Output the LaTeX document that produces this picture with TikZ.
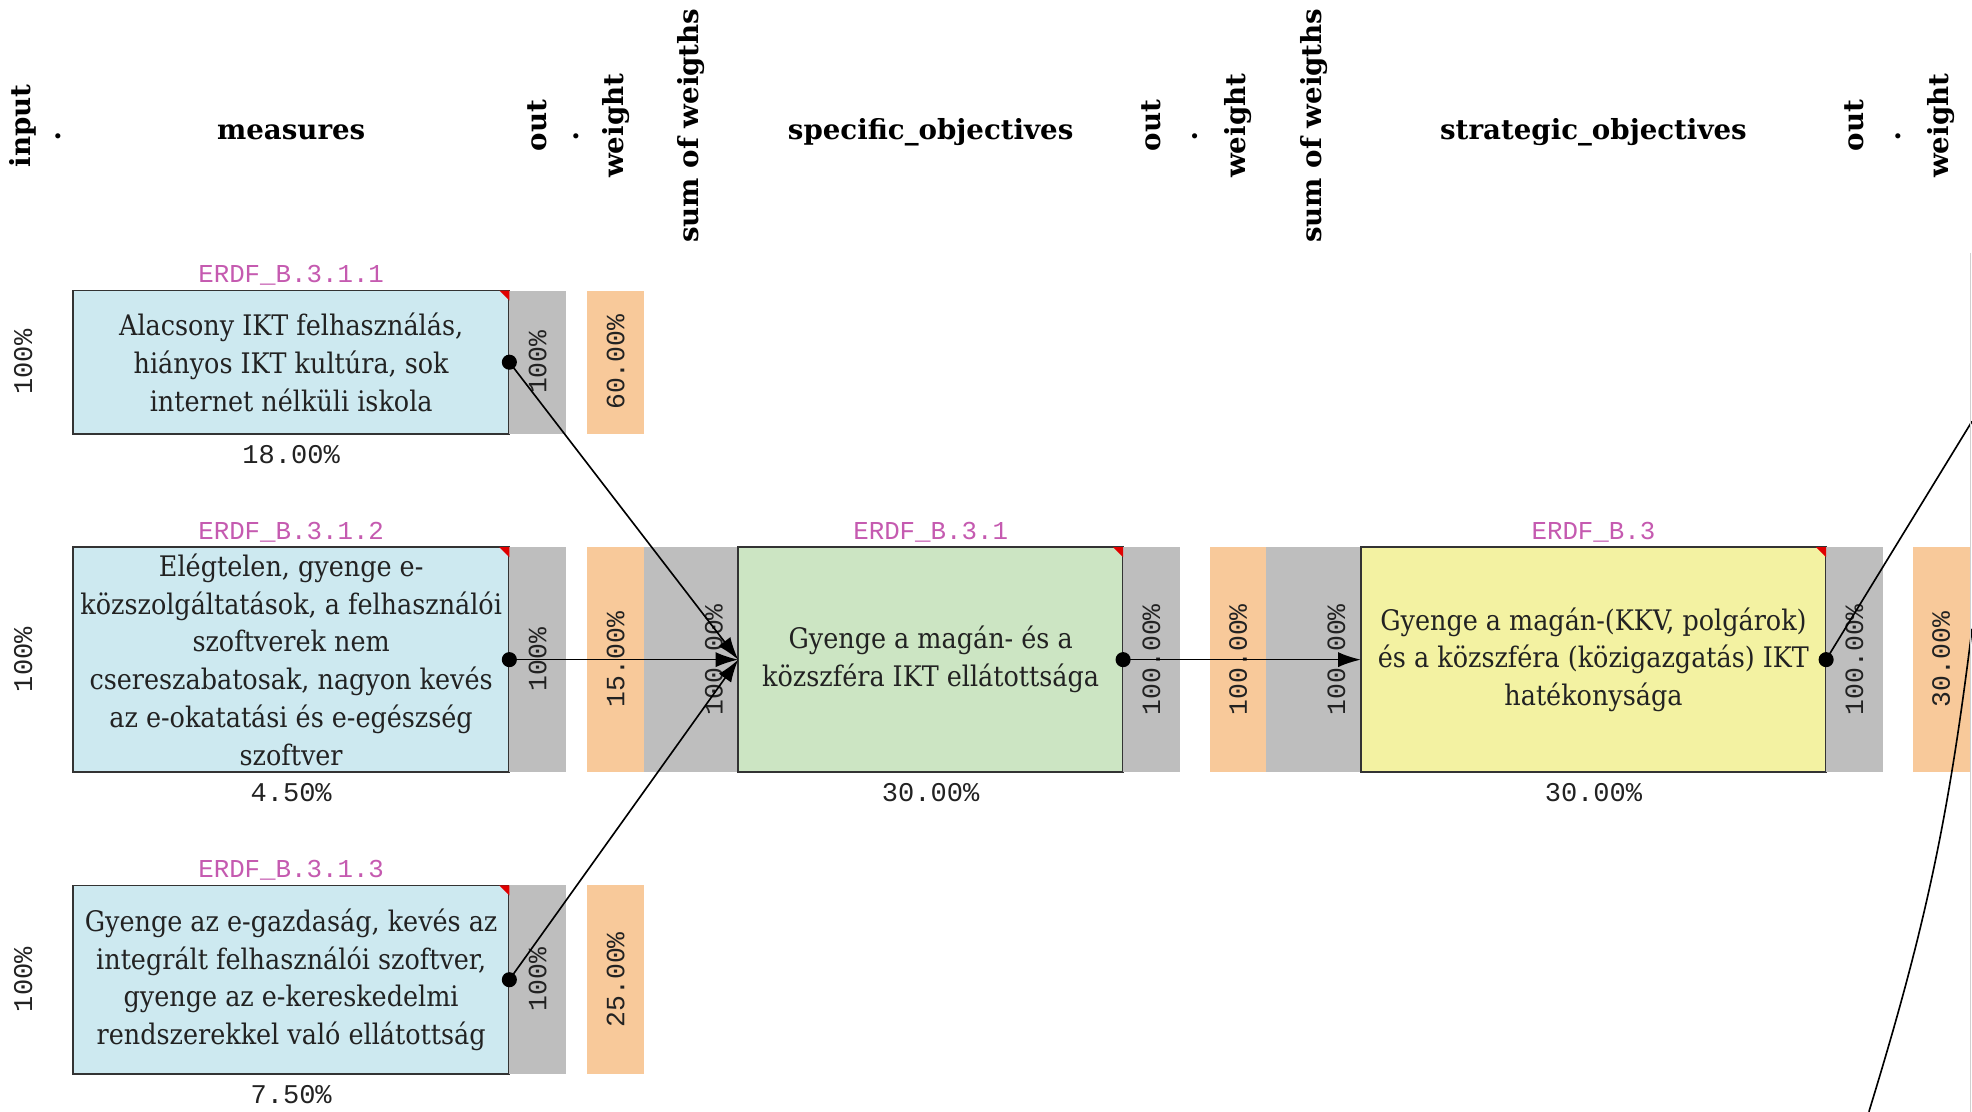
\documentclass[tikz,border=0pt]{standalone}
\usepackage{fontspec}
\setmainfont{DejaVu Serif Condensed}
\newfontfamily\hdrfont{DejaVu Serif}
\newfontfamily\pctfont{Liberation Mono}
\usepackage{tikz}
\usetikzlibrary{positioning,arrows.meta}
\definecolor{trBlueL}{HTML}{CDE9F0}
\definecolor{trGreenL}{HTML}{CCE5C3}
\definecolor{trYellowL}{HTML}{F3F2A2}
\definecolor{trGray}{HTML}{BEBEBE}
\definecolor{trOrangeL}{HTML}{F8C99A}
\definecolor{trPink}{HTML}{C55AB0}
\definecolor{trRed}{HTML}{E00000}
\definecolor{trBorder}{HTML}{333333}
\definecolor{trText}{HTML}{222222}
\definecolor{trEdge}{HTML}{D0D0D0}
\tikzset{
  tr-box/.style={
    draw=trBorder, line width=1.4pt, outer sep=0pt, inner sep=4pt,
    align=center, text=trText, font=\fontsize{22.5}{30}\selectfont
  },
  tr-measure/.style={tr-box, fill=trBlueL, minimum width=347pt},
  tr-spec/.style={tr-box, fill=trGreenL, minimum width=306pt, minimum height=179pt},
  tr-strat/.style={tr-box, fill=trYellowL, minimum width=370pt, minimum height=179pt},
  tr-out/.style={fill=trGray, outer sep=0pt, inner sep=0pt, minimum width=45pt,
    text=trText, font=\pctfont\fontsize{21}{21}\selectfont},
  tr-weight/.style={tr-out, fill=trOrangeL},
  tr-sum/.style={tr-out, minimum width=75pt},
  tr-code/.style={font=\pctfont\fontsize{20.5}{20.5}\selectfont, text=trPink, inner sep=0pt},
  tr-pct/.style={font=\pctfont\fontsize{21.5}{21.5}\selectfont, text=trText, inner sep=0pt},
  tr-head/.style={font=\hdrfont\bfseries\fontsize{22}{22}\selectfont, inner sep=0pt},
  tr-flow/.style={-{Latex[length=18pt,width=12pt]}, line width=1.3pt},
  tr-link/.style={line width=1.3pt},
  tr-dot/.style={circle, fill=black, inner sep=0pt, minimum size=12pt}
}
\newcommand\trcorner[1]{%
  \fill[trRed] ([xshift=-8pt]#1.north east) -- (#1.north east)
    -- ([yshift=-8pt]#1.north east) -- cycle;}

\begin{document}
\begin{tikzpicture}[x=1pt, y=-1pt]
\fill[white] (0,0) rectangle (1568,884);
\useasboundingbox (0,0) rectangle (1568,884);

% measures
\node[tr-measure, minimum height=114pt] (m1) at (231.5,288)
  {Alacsony IKT felhasználás,\\ hiányos IKT kultúra, sok\\ internet nélküli iskola};
\node[tr-measure, minimum height=179pt] (m2) at (231.5,524.5)
  {Elégtelen, gyenge e-\\ közszolgáltatások, a felhasználói\\ szoftverek nem\\
  csereszabatosak, nagyon kevés\\ az e-okatatási és e-egészség\\ szoftver};
\node[tr-measure, minimum height=150pt] (m3) at (231.5,779)
  {Gyenge az e-gazdaság, kevés az\\ integrált felhasználói szoftver,\\
  gyenge az e-kereskedelmi\\ rendszerekkel való ellátottság};

\node[tr-out, minimum height=114pt, right=0pt of m1] (m1out) {\rotatebox{90}{100\%}};
\node[tr-weight, minimum height=114pt, right=17pt of m1out] (m1w) {\rotatebox{90}{60.00\%}};
\node[tr-out, minimum height=179pt, right=0pt of m2] (m2out) {\rotatebox{90}{100\%}};
\node[tr-weight, minimum height=179pt, right=17pt of m2out] (m2w) {\rotatebox{90}{15.00\%}};
\node[tr-out, minimum height=150pt, right=0pt of m3] (m3out) {\rotatebox{90}{100\%}};
\node[tr-weight, minimum height=150pt, right=17pt of m3out] (m3w) {\rotatebox{90}{25.00\%}};

% specific objective
\node[tr-sum, minimum height=179pt, right=0pt of m2w] (so1sum) {};
\node[tr-spec, right=0pt of so1sum] (so1)
  {Gyenge a magán- és a\\ közszféra IKT ellátottsága};
\node[tr-out, minimum height=179pt, right=0pt of so1] (so1out) {\rotatebox{90}{100.00\%}};
\node[tr-weight, minimum height=179pt, right=24pt of so1out] (so1w) {\rotatebox{90}{100.00\%}};

% strategic objective
\node[tr-sum, minimum height=179pt, right=0pt of so1w] (st1sum) {};
\node[tr-strat, right=0pt of st1sum] (st1)
  {Gyenge a magán-(KKV, polgárok)\\ és a közszféra (közigazgatás) IKT\\ hatékonysága};
\node[tr-out, minimum height=179pt, right=0pt of st1] (st1out) {\rotatebox{90}{100.00\%}};
\node[tr-weight, minimum height=179pt, right=24pt of st1out] (st1w) {\rotatebox{90}{30.00\%}};

\node[tr-pct, left=12pt of so1sum.east, font=\pctfont\fontsize{21}{21}\selectfont] (so1in) {\rotatebox{90}{100.00\%}};
\node[tr-pct, left=12pt of st1sum.east, font=\pctfont\fontsize{21}{21}\selectfont] (st1in) {\rotatebox{90}{100.00\%}};

\foreach \n in {m1,m2,m3,so1,st1} {\trcorner{\n}}

% codes and shares
\node[tr-code, above=4pt of m1] (m1code) {ERDF\_B.3.1.1};
\node[tr-code, above=4pt of m2] (m2code) {ERDF\_B.3.1.2};
\node[tr-code, above=4pt of m3] (m3code) {ERDF\_B.3.1.3};
\node[tr-code, above=4pt of so1] (so1code) {ERDF\_B.3.1};
\node[tr-code, above=4pt of st1] (st1code) {ERDF\_B.3};
\node[tr-pct, below=9pt of m1] (m1share) {18.00\%};
\node[tr-pct, below=9pt of m2] (m2share) {4.50\%};
\node[tr-pct, below=9pt of m3] (m3share) {7.50\%};
\node[tr-pct, below=9pt of so1] (so1share) {30.00\%};
\node[tr-pct, below=9pt of st1] (st1share) {30.00\%};
\node[tr-pct, left=32pt of m1] (m1in) {\rotatebox{90}{100\%}};
\node[tr-pct, left=32pt of m2] (m2in) {\rotatebox{90}{100\%}};
\node[tr-pct, left=32pt of m3] (m3in) {\rotatebox{90}{100\%}};

% header row
\coordinate (hrow) at (0,100);
\coordinate (hbase) at (0,111);
\node[tr-head] (hin) at (m1in |- hrow) {\rotatebox{90}{input}};
\node[tr-head, anchor=base] (hmeas) at (m1 |- hbase) {measures};
\node[tr-head] (hout1) at (m1out |- hrow) {\rotatebox{90}{out}};
\node[tr-head] (hw1) at (m1w |- hrow) {\rotatebox{90}{weight}};
\node[tr-head] (hsum1) at (so1sum |- hrow) {\rotatebox{90}{sum of weigths}};
\node[tr-head, anchor=base] (hspec) at (so1 |- hbase) {specific\_objectives};
\node[tr-head] (hout2) at (so1out |- hrow) {\rotatebox{90}{out}};
\node[tr-head] (hw2) at (so1w |- hrow) {\rotatebox{90}{weight}};
\node[tr-head] (hsum2) at (st1sum |- hrow) {\rotatebox{90}{sum of weigths}};
\node[tr-head, anchor=base] (hstrat) at (st1 |- hbase) {strategic\_objectives};
\node[tr-head] (hout3) at (st1out |- hrow) {\rotatebox{90}{out}};
\node[tr-head] (hw3) at (st1w |- hrow) {\rotatebox{90}{weight}};
\node[tr-head, anchor=base] (hdot0) at (46,110) {.};
\node[tr-head, anchor=base] (hdot1) at (458,110) {.};
\node[tr-head, anchor=base] (hdot2) at (950,110) {.};
\node[tr-head, anchor=base] (hdot3) at (1509,110) {.};

% links
\coordinate (offA) at (1568,335);
\coordinate (offB) at (1486,884);
\coordinate (offC) at (1568,500);
\draw[tr-flow] (m1.east) -- (so1.west);
\draw[tr-flow] (m2.east) -- (so1.west);
\draw[tr-flow] (m3.east) -- (so1.west);
\draw[tr-flow] (so1.east) -- (st1.west);
\draw[tr-link] (st1.east) -- (offA);
\draw[tr-link] (offB) to[bend right=5] (offC);
\foreach \n in {m1,m2,m3,so1,st1} {\node[tr-dot] at (\n.east) {};}

\draw[trEdge, line width=1pt] (1567,201) -- (1567,884);
\end{tikzpicture}
\end{document}
